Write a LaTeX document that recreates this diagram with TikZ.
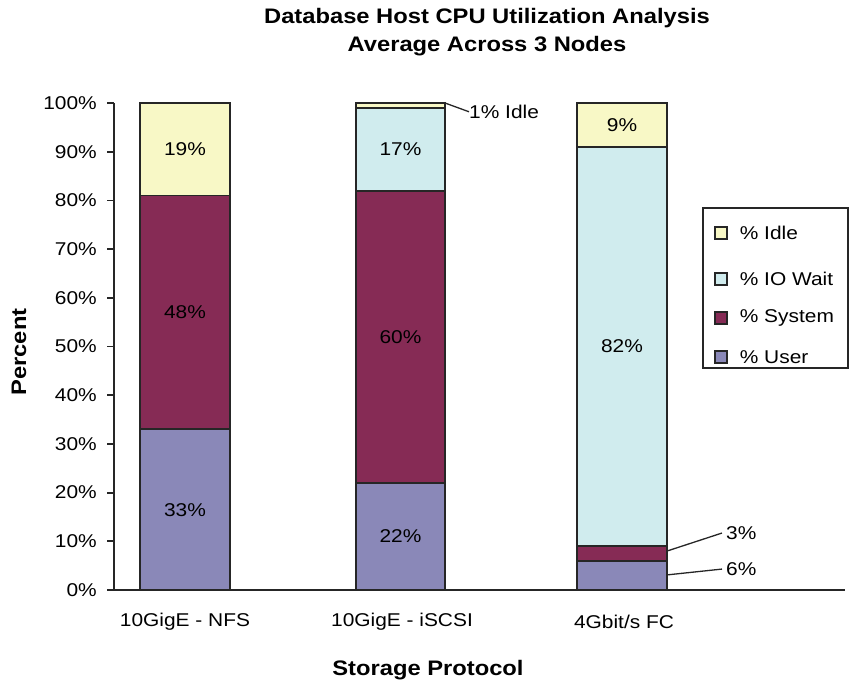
\documentclass[tikz,border=0pt]{standalone}
\usepackage{fontspec}
\setmainfont{Liberation Sans}[FakeStretch=1.13]
\usepackage{tikz}
\usetikzlibrary{positioning}
\definecolor{idlecol}{HTML}{F8F8C6}
\definecolor{waitcol}{HTML}{D0ECEE}
\definecolor{syscol}{HTML}{862B55}
\definecolor{usercol}{HTML}{8A88B8}
\tikzstyle{seg} = [draw=black!85, line width=1.8pt]
\tikzstyle{idle} = [fill=idlecol]
\tikzstyle{wait} = [fill=waitcol]
\tikzstyle{sys} = [fill=syscol]
\tikzstyle{usr} = [fill=usercol]
\tikzstyle{axis} = [draw=black!85, line width=1.8pt]
\tikzstyle{lbl} = [font={\fontsize{18.5}{22}\selectfont}, inner sep=0pt]
\tikzstyle{ttl} = [font={\fontsize{21}{25}\selectfont\bfseries}, inner sep=0pt]
\tikzstyle{leader} = [draw=black!85, line width=1.3pt]
\tikzstyle{key} = [draw=black!85, line width=1.3pt, minimum size=12pt, inner sep=0pt]

\begin{document}
\begin{tikzpicture}[x=1pt, y=-1pt]
    \useasboundingbox (0,0) rectangle (851,681);
    \node[ttl](title1) at (487,18){Database Host CPU Utilization Analysis};
    \node[ttl](title2) at (487,46){Average Across 3 Nodes};
    \node[ttl,rotate=90](ylab) at (19,352){Percent};
    \node[ttl](xlab) at (428,670){Storage Protocol};

    \begin{scope}[shift={(114,590)}, y=4.87pt]
    % axes
    \draw[axis] (0,0) -- (0,100);
    \draw[axis] (-7,0) -- (731,0);
    \foreach \v in {0,10,...,100}{
        \draw[axis] (-7,\v) -- (0,\v);
        \node[lbl,anchor=east](tick\v) at (-17,\v){\v\%};
    }
    % 10GigE - NFS
    \draw[seg,usr] (26,0) rectangle (116,33);
    \draw[seg,sys] (26,33) rectangle (116,81);
    \draw[seg,idle] (26,81) rectangle (116,100);
    \node[lbl](nfsusr) at (71,16.5){33\%};
    \node[lbl](nfssys) at (71,57){48\%};
    \node[lbl](nfsidle) at (71,90.5){19\%};
    \node[lbl](nfs) at (71,-6.6){10GigE - NFS};
    % 10GigE - iSCSI
    \draw[seg,usr] (242,0) rectangle (331,22);
    \draw[seg,sys] (242,22) rectangle (331,82);
    \draw[seg,wait] (242,82) rectangle (331,99);
    \draw[seg,idle] (242,99) rectangle (331,100);
    \coordinate (iscsitop) at (331,100);
    \node[lbl](iscsiusr) at (286.5,11){22\%};
    \node[lbl](iscsisys) at (286.5,52){60\%};
    \node[lbl](iscsiwait) at (286.5,90.5){17\%};
    \node[lbl,anchor=west](iscsiidle) at (355,98.2){1\% Idle};
    \node[lbl](iscsi) at (288,-6.6){10GigE - iSCSI};
    \draw[leader] (iscsitop) -- (iscsiidle.west);
    % 4Gbit/s FC
    \draw[seg,usr] (463,0) rectangle (553,6);
    \draw[seg,sys] (463,6) rectangle (553,9);
    \draw[seg,wait] (463,9) rectangle (553,91);
    \draw[seg,idle] (463,91) rectangle (553,100);
    \coordinate (fcsys) at (553,8);
    \coordinate (fcusr) at (553,3.1);
    \node[lbl](fcwait) at (508,50){82\%};
    \node[lbl](fcidle) at (508,95.5){9\%};
    \node[lbl,anchor=west](fcsyslbl) at (612,11.7){3\%};
    \node[lbl,anchor=west](fcusrlbl) at (612,4.3){6\%};
    \node[lbl](fc) at (510,-6.6){4Gbit/s FC};
    \draw[leader] (fcsys) -- ([xshift=-4pt]fcsyslbl.west);
    \draw[leader] (fcusr) -- ([xshift=-4pt]fcusrlbl.west);
    \end{scope}

    % legend
    \draw[draw=black!85, line width=1.5pt] (703,208) rectangle (848,368);
    \node[key,fill=idlecol](kidle) at (721,233){};
    \node[key,fill=waitcol](kwait) at (721,279){};
    \node[key,fill=syscol](ksys) at (721,318){};
    \node[key,fill=usercol](kusr) at (721,357){};
    \node[lbl,right=12pt of kidle](tidle){\% Idle};
    \node[lbl,right=12pt of kwait](twait){\% IO Wait};
    \node[lbl,right=12pt of ksys](tsys){\% System};
    \node[lbl,right=12pt of kusr](tusr){\% User};
\end{tikzpicture}
\end{document}
